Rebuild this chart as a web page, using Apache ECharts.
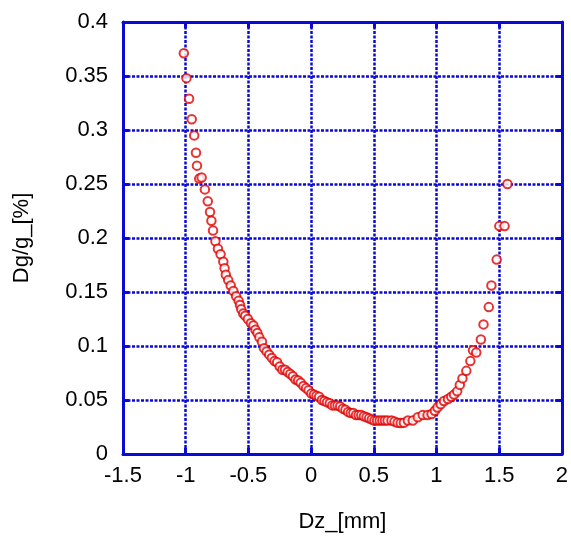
<!DOCTYPE html>
<html>
<head>
<meta charset="utf-8">
<script src="https://cdn.jsdelivr.net/npm/echarts@6/dist/echarts.min.js"></script>
<style>html,body{margin:0;padding:0;background:#fff;}#c{width:571px;height:538px;}</style>
</head>
<body>
<div id="c"></div>
<script>
var xName = "Dz_[mm]";
var yName = "Dg/g_[%]";
var dz = [-1.015,-0.994,-0.973,-0.952,-0.932,-0.918,-0.910,-0.892,-0.873,-0.847,-0.824,-0.806,-0.795,-0.782,-0.763,
-0.743,-0.722,-0.700,-0.690,-0.680,-0.661,-0.641,-0.620,-0.598,-0.578,-0.567,-0.557,-0.541,-0.525,-0.504,-0.480,-0.460,
-0.444,-0.428,-0.413,-0.392,-0.376,-0.355,-0.334,-0.313,-0.292,-0.271,-0.250,-0.229,-0.208,-0.187,-0.166,-0.145,-0.124,
-0.103,-0.083,-0.061,-0.040,-0.020,0.002,0.023,0.043,0.064,0.086,0.106,0.127,0.149,0.169,0.190,0.211,0.232,0.253,0.274,
0.295,0.316,0.337,0.358,0.379,0.400,0.421,0.442,0.463,0.484,0.505,0.526,0.547,0.568,0.589,0.610,0.641,0.665,0.690,0.715,
0.740,0.772,0.811,0.851,0.890,0.929,0.961,0.987,1.008,1.034,1.060,1.092,1.118,1.140,1.165,1.186,1.207,1.238,1.270,1.291,
1.317,1.354,1.375,1.417,1.438,1.480,1.501,1.543,1.566];
var dg = [0.371,0.348,0.329,0.310,0.295,0.279,0.267,0.255,0.256,0.245,0.234,0.224,0.216,0.207,0.197,
0.190,0.185,0.178,0.172,0.166,0.161,0.156,0.151,0.146,0.142,0.138,0.134,0.130,0.128,0.125,0.121,0.119,
0.115,0.112,0.108,0.104,0.098,0.095,0.092,0.089,0.086,0.085,0.081,0.078,0.078,0.076,0.074,0.072,0.069,
0.068,0.066,0.063,0.061,0.059,0.056,0.055,0.054,0.053,0.050,0.049,0.048,0.047,0.045,0.045,0.045,0.044,0.042,0.041,
0.039,0.038,0.038,0.036,0.036,0.036,0.035,0.034,0.033,0.032,0.031,0.031,0.031,0.031,0.031,0.031,0.031,0.030,0.029,0.0286,
0.029,0.031,0.031,0.034,0.036,0.036,0.037,0.040,0.043,0.046,0.049,0.051,0.053,0.055,0.058,0.064,0.070,0.077,0.086,0.096,
0.094,0.106,0.120,0.136,0.156,0.180,0.211,0.211,0.250];
var xTicks = {min:-1.5, max:2, interval:0.5};
var yTicks = {min:0, max:0.4, interval:0.05};

var pts = dz.map(function(v,i){return [v, dg[i]];});
var blue = '#0a0ad2';
var font = 'Liberation Sans, Arial, sans-serif';
var fs = 22;
function fmt(v){ return String(Math.round(v*100)/100); }
var chart = echarts.init(document.getElementById('c'), null, {renderer:'canvas'});
function frameAxis(pos){
  return {
    type:'value', position:pos,
    axisLine:{show:true, onZero:false, lineStyle:{color:blue, width:3}},
    axisTick:{show:true, inside:true, length:6, lineStyle:{color:blue, width:3}},
    axisLabel:{show:false}, splitLine:{show:false}
  };
}
var xTop = frameAxis('top'); xTop.min = xTicks.min; xTop.max = xTicks.max; xTop.interval = xTicks.interval;
var yRight = frameAxis('right'); yRight.min = yTicks.min; yRight.max = yTicks.max; yRight.interval = yTicks.interval;
chart.setOption({
  animation:false,
  backgroundColor:'#fff',
  grid:{left:123, right:5, top:22, bottom:73, show:false},
  xAxis:[{
    type:'value', min:xTicks.min, max:xTicks.max, interval:xTicks.interval, position:'bottom',
    name:xName, nameLocation:'middle', nameGap:57,
    nameTextStyle:{fontFamily:font, fontSize:fs, color:'#000'},
    axisLine:{show:true, onZero:false, lineStyle:{color:blue, width:3}},
    axisTick:{show:true, inside:true, length:6, lineStyle:{color:blue, width:3}},
    axisLabel:{fontFamily:font, fontSize:fs, color:'#000', margin:11, formatter:fmt},
    splitLine:{show:true, lineStyle:{color:blue, width:2.5, type:[3,1.5]}}
  }, xTop],
  yAxis:[{
    type:'value', min:yTicks.min, max:yTicks.max, interval:yTicks.interval, position:'left',
    name:yName, nameLocation:'middle', nameGap:90, nameRotate:90,
    nameTextStyle:{fontFamily:font, fontSize:fs, color:'#000'},
    axisLine:{show:true, onZero:false, lineStyle:{color:blue, width:3}},
    axisTick:{show:true, inside:true, length:6, lineStyle:{color:blue, width:3}},
    axisLabel:{fontFamily:font, fontSize:fs, color:'#000', margin:15, formatter:fmt},
    splitLine:{show:true, lineStyle:{color:blue, width:2.5, type:[3,1.5]}}
  }, yRight],
  series:[{
    type:'scatter', xAxisIndex:0, yAxisIndex:0, data:pts,
    symbol:'emptyCircle', symbolSize:8.5,
    itemStyle:{color:'#e00000', borderColor:'#e00000', borderWidth:2.5}
  }]
});
</script>
</body>
</html>
